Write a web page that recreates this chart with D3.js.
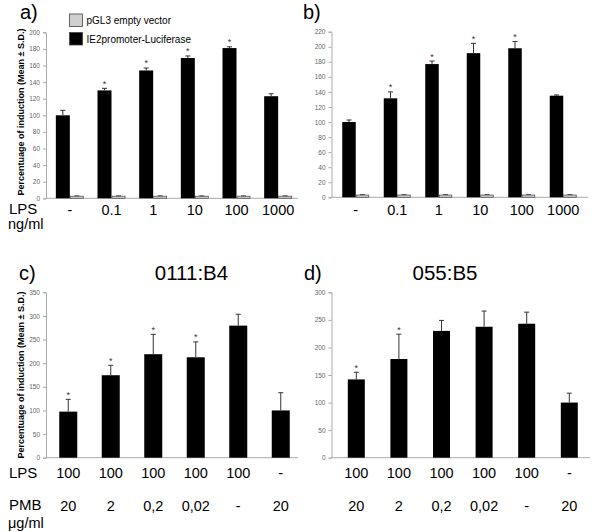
<!DOCTYPE html>
<html><head><meta charset="utf-8">
<script src="https://cdn.jsdelivr.net/npm/d3@7"></script>
<style>
body{margin:0;background:#fff;}
svg{font-family:"Liberation Sans",Arial,sans-serif;}
</style></head>
<body><svg id="chart" width="600" height="532"></svg>
<script>
// ---- data ----
const doseLabels = ["-", "0.1", "1", "10", "100", "1000"];
const aLuc    = [100, 130, 154, 169, 181, 123];
const aLucErr = [6, 2.5, 3, 2.5, 1.5, 3];
const aEmpty    = [2.5, 2.5, 2.5, 2.5, 2.5, 2.5];
const aEmptyErr = [0.5, 0.5, 0.5, 0.5, 0.5, 0.5];
const aSig = [false, true, true, true, true, false];

const bLuc    = [100, 131.5, 177, 191.5, 198, 135];
const bLucErr = [2.7, 8.5, 4, 13, 9, 1];
const bEmpty    = [3, 3, 3, 3, 3, 3];
const bEmptyErr = [0.7, 0.7, 0.7, 0.7, 0.7, 0.7];
const bSig = [false, true, true, true, true, false];

const lpsLabels = ["100", "100", "100", "100", "100", "-"];
const pmbLabels = ["20", "2", "0,2", "0,02", "-", "20"];
const cVal = [97.5, 174.5, 219, 212.5, 279.5, 100];
const cErr = [26, 21, 42, 32.5, 24, 37.5];
const cSig = [true, true, true, true, false, false];
const dVal = [142, 179, 230, 237.5, 243, 100];
const dErr = [13, 45, 19, 28.5, 21, 17];
const dSig = [true, true, false, false, false, false];

const aTicks = d3.range(0, 201, 20);
const bTicks = d3.range(0, 221, 20);
const cTicks = d3.range(0, 351, 50);
const dTicks = d3.range(0, 301, 50);

const yTitle = "Percentuage of induction (Mean \u00b1 S.D.)";

const svg = d3.select("#chart");

function panel(o) {
  const g = svg.append("g");
  const x = d3.scaleBand().domain(d3.range(o.n)).range(o.xr).padding(0);
  const y = d3.scaleLinear().domain(o.yd).range(o.yr);
  const ax = g.append("g").attr("transform", `translate(${o.axX},0)`)
    .call(d3.axisLeft(y).tickValues(o.ticks).tickSize(3).tickPadding(3).tickFormat(d3.format("d")));
  ax.select(".domain").attr("stroke", "#aaa").attr("stroke-width", 1);
  ax.selectAll(".tick line").attr("stroke", "#aaa");
  ax.selectAll(".tick text").attr("fill", "#666").style("font-size", "6.5px")
    .style("font-family", "'Liberation Sans',Arial,sans-serif");
  g.append("line").attr("x1", o.axX).attr("x2", o.axEnd)
    .attr("y1", y(0)).attr("y2", y(0)).attr("stroke", "#aaa");
  return {g, x, y};
}

function errBars(g, xs, y, vals, errs, color) {
  vals.forEach((v, i) => {
    const cx = xs[i];
    g.append("line").attr("x1", cx).attr("x2", cx).attr("y1", y(v)).attr("y2", y(v + errs[i]))
      .attr("stroke", color).attr("stroke-width", 1);
    g.append("line").attr("x1", cx - 2.5).attr("x2", cx + 2.5).attr("y1", y(v + errs[i])).attr("y2", y(v + errs[i]))
      .attr("stroke", color).attr("stroke-width", 1);
  });
}

function stars(g, xs, y, vals, errs, sig) {
  vals.forEach((v, i) => {
    if (!sig[i]) return;
    g.append("text").attr("x", xs[i]).attr("y", y(v + errs[i]) - 1.5)
      .attr("text-anchor", "middle").style("font-size", "9px").attr("fill", "#333").text("*");
  });
}

function groupedPanel(o) {
  const {g, x, y} = panel(o);
  const bw = o.bw;
  const centers = d3.range(o.n).map(i => x(i) + x.bandwidth() / 2);
  g.selectAll(".lb").data(o.luc).join("rect")
    .attr("x", (d, i) => centers[i] - bw).attr("width", bw)
    .attr("y", d => y(d)).attr("height", d => y(0) - y(d)).attr("fill", "#000");
  g.selectAll(".eb").data(o.empty).join("rect")
    .attr("x", (d, i) => centers[i] + 0.5).attr("width", bw - 1)
    .attr("y", d => y(d)).attr("height", d => y(0) - y(d))
    .attr("fill", "#d0d0d0").attr("stroke", "#555").attr("stroke-width", 0.8);
  const lx = centers.map(c => c - bw / 2);
  const ex = centers.map(c => c + bw / 2);
  errBars(g, lx, y, o.luc, o.lucErr, "#333");
  errBars(g, ex, y, o.empty, o.emptyErr, "#555");
  stars(g, lx, y, o.luc, o.lucErr, o.sig);
  g.selectAll(".xl").data(doseLabels).join("text")
    .attr("x", (d, i) => centers[i]).attr("y", o.labY)
    .attr("text-anchor", "middle").style("font-size", "14.5px").attr("fill", "#000").text(d => d);
  return {g, x, y};
}

function singlePanel(o) {
  const {g, x, y} = panel(o);
  const bw = o.bw;
  const centers = d3.range(o.n).map(i => x(i) + x.bandwidth() / 2);
  g.selectAll(".b").data(o.vals).join("rect")
    .attr("x", (d, i) => centers[i] - bw / 2).attr("width", bw)
    .attr("y", d => y(d)).attr("height", d => y(0) - y(d)).attr("fill", "#000");
  errBars(g, centers, y, o.vals, o.errs, "#333");
  stars(g, centers, y, o.vals, o.errs, o.sig);
  g.selectAll(".l1").data(lpsLabels).join("text")
    .attr("x", (d, i) => centers[i]).attr("y", 478)
    .attr("text-anchor", "middle").style("font-size", "14.5px").text(d => d);
  g.selectAll(".l2").data(pmbLabels).join("text")
    .attr("x", (d, i) => centers[i]).attr("y", 511)
    .attr("text-anchor", "middle").style("font-size", "14.5px").text(d => d);
  return {g, x, y};
}

// panel a
groupedPanel({n: 6, xr: [49, 299], yd: [0, 200], yr: [198.3, 32.3], axX: 46, axEnd: 298,
  ticks: aTicks, bw: 14, luc: aLuc, lucErr: aLucErr, empty: aEmpty, emptyErr: aEmptyErr, sig: aSig, labY: 215});
// panel b
groupedPanel({n: 6, xr: [335, 584], yd: [0, 220], yr: [197.3, 31.7], axX: 331.5, axEnd: 588,
  ticks: bTicks, bw: 13.5, luc: bLuc, lucErr: bLucErr, empty: bEmpty, emptyErr: bEmptyErr, sig: bSig, labY: 215});
// panel c
singlePanel({n: 6, xr: [47, 302], yd: [0, 350], yr: [457.7, 292.3], axX: 46, axEnd: 298,
  ticks: cTicks, bw: 18, vals: cVal, errs: cErr, sig: cSig});
// panel d
singlePanel({n: 6, xr: [335, 590.6], yd: [0, 300], yr: [457.7, 292.3], axX: 331.5, axEnd: 590,
  ticks: dTicks, bw: 17, vals: dVal, errs: dErr, sig: dSig});

// legend
const legend = [{label: "pGL3 empty vector", fill: "#d0d0d0", y: 14},
                {label: "IE2promoter-Luciferase", fill: "#000", y: 32.5}];
legend.forEach(l => {
  svg.append("rect").attr("x", 69.5).attr("y", l.y).attr("width", 13).attr("height", 12.5)
    .attr("fill", l.fill).attr("stroke", "#444").attr("stroke-width", 0.8);
  svg.append("text").attr("x", 86.5).attr("y", l.y + 10).style("font-size", "10px").text(l.label);
});

// panel letters and titles
const big = (x, y, t, size, anchor) => svg.append("text").attr("x", x).attr("y", y)
  .attr("text-anchor", anchor || "start").style("font-size", size + "px").text(t);
big(20, 19, "a)", 20);
big(303, 19, "b)", 20);
big(19, 280, "c)", 20);
big(304, 280, "d)", 20);
big(191.5, 280, "0111:B4", 20.5, "middle");
big(445, 280, "055:B5", 20.5, "middle");

// row labels
big(9, 214, "LPS", 15);
big(8, 228.5, "ng/ml", 14.5);
big(9, 478, "LPS", 15);
big(9, 510, "PMB", 15);
big(8, 527.5, "\u03bcg/ml", 14.5);

// y titles
[[112, 24], [375, 24]].forEach(([cy, cx]) => {
  svg.append("text").attr("transform", `translate(${cx},${cy}) rotate(-90)`)
    .attr("text-anchor", "middle").style("font-size", "9px").style("font-weight", "bold")
    .text(yTitle);
});
</script></body></html>
